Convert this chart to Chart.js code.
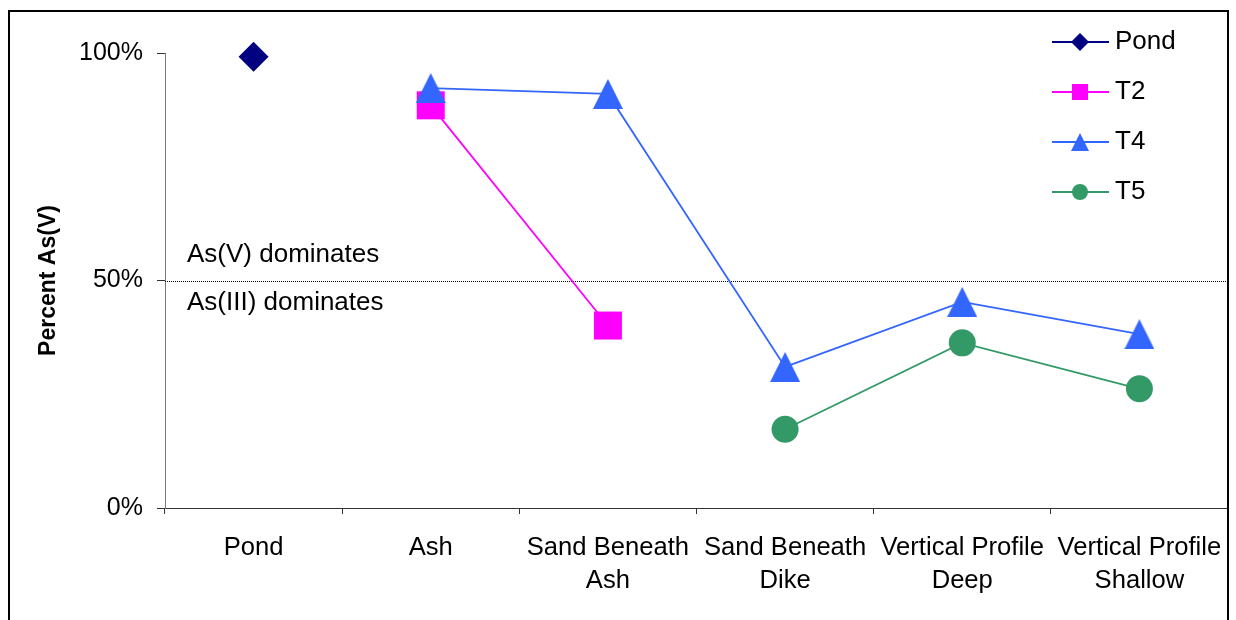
<!DOCTYPE html>
<html>
<head>
<meta charset="utf-8">
<script src="https://cdn.jsdelivr.net/npm/chart.js@4.4.0/dist/chart.umd.min.js"></script>
<style>
  html, body { margin: 0; padding: 0; background: #fff; }
  canvas { display: block; }
</style>
</head>
<body>
<canvas id="graficoArsenio" width="1236" height="620"></canvas>
<script>
// Dados (percentual de As(V))
const categorias = [['Pond'], ['Ash'], ['Sand Beneath', 'Ash'], ['Sand Beneath', 'Dike'], ['Vertical Profile', 'Deep'], ['Vertical Profile', 'Shallow']];
const serieNomes = ['Pond', 'T2', 'T4', 'T5'];
const pond = [99.2, null, null, null, null, null];
const t2 = [null, 88.5, 40.1, null, null, null];
const t4 = [null, 92.3, 91.0, 31.0, 45.3, 38.2];
const t5 = [null, null, null, 17.3, 36.3, 26.2];
const yTicks = [0, 50, 100];
const linhaDivisoria = 50;

const fonte = 'Liberation Sans, Arial, sans-serif';

// Triângulo no estilo do Excel (centrado na caixa)
const triangulo = (w, h, cor) => {
    const c = document.createElement('canvas');
    c.width = w; c.height = h;
    const g = c.getContext('2d');
    g.fillStyle = cor;
    g.beginPath();
    g.moveTo(w / 2, 0); g.lineTo(w, h); g.lineTo(0, h);
    g.closePath(); g.fill();
    return c;
};

const cores = { pond: '#000080', t2: '#FF00FF', t4: '#3366FF', t5: '#339966' };

// Moldura externa
const molduraPlugin = {
    id: 'moldura',
    afterDraw(chart) {
        const ctx = chart.ctx;
        ctx.save();
        ctx.strokeStyle = '#000';
        ctx.lineWidth = 2;
        ctx.strokeRect(9, 11, 1219, 700);
        ctx.restore();
    }
};

// Linha pontilhada de 50% e textos
const divisoriaPlugin = {
    id: 'divisoria',
    beforeDatasetsDraw(chart) {
        const ctx = chart.ctx;
        const y = Math.round(chart.scales.y.getPixelForValue(linhaDivisoria)) + 0.5;
        const a = chart.chartArea;
        ctx.save();
        ctx.strokeStyle = '#000';
        ctx.lineWidth = 1;
        ctx.setLineDash([1, 1]);
        ctx.beginPath();
        ctx.moveTo(a.left, y);
        ctx.lineTo(a.right, y);
        ctx.stroke();
        ctx.setLineDash([]);
        ctx.fillStyle = '#000';
        ctx.font = '26px ' + fonte;
        ctx.textAlign = 'left';
        ctx.textBaseline = 'middle';
        ctx.fillText('As(V) dominates', a.left + 22, y - 27);
        ctx.fillText('As(III) dominates', a.left + 22, y + 21);
        ctx.restore();
    }
};

// Legenda com linha + marcador
const legendaPlugin = {
    id: 'legenda',
    afterDraw(chart) {
        const ctx = chart.ctx;
        chart.data.datasets.forEach((ds, i) => {
            const y = 42 + i * 50;
            const cx = 1080;
            ctx.save();
            ctx.strokeStyle = ds.borderColor;
            ctx.lineWidth = 1.8;
            ctx.beginPath();
            ctx.moveTo(1052, y);
            ctx.lineTo(1109, y);
            ctx.stroke();
            ctx.fillStyle = ds.borderColor;
            ctx.beginPath();
            if (ds.label === 'Pond') {
                ctx.moveTo(cx - 9, y); ctx.lineTo(cx, y - 9); ctx.lineTo(cx + 9, y); ctx.lineTo(cx, y + 9);
                ctx.closePath(); ctx.fill();
            } else if (ds.label === 'T2') {
                ctx.fillRect(cx - 8, y - 8, 16, 16);
            } else if (ds.label === 'T4') {
                ctx.moveTo(cx, y - 9); ctx.lineTo(cx + 9, y + 9); ctx.lineTo(cx - 9, y + 9);
                ctx.closePath(); ctx.fill();
            } else {
                ctx.arc(cx, y, 8, 0, Math.PI * 2); ctx.fill();
            }
            ctx.fillStyle = '#000';
            ctx.font = '26px ' + fonte;
            ctx.textAlign = 'left';
            ctx.textBaseline = 'middle';
            ctx.fillText(ds.label, 1115, y);
            ctx.restore();
        });
    }
};

const ctxGrafico = document.getElementById('graficoArsenio').getContext('2d');
new Chart(ctxGrafico, {
    type: 'line',
    data: {
        labels: categorias,
        datasets: [
            { label: serieNomes[0], data: pond, order: 3, clip: false, borderColor: cores.pond, backgroundColor: cores.pond, borderWidth: 1.8, pointStyle: 'rectRot', pointRadius: 15, pointBorderWidth: 0 },
            { label: serieNomes[1], data: t2, order: 2, clip: false, borderColor: cores.t2, backgroundColor: cores.t2, borderWidth: 1.8, pointStyle: 'rect', pointRadius: 19.8, pointBorderWidth: 0 },
            { label: serieNomes[2], data: t4, order: 1, clip: false, borderColor: cores.t4, backgroundColor: cores.t4, borderWidth: 1.8, pointStyle: triangulo(30, 30, cores.t4), pointBorderWidth: 0 },
            { label: serieNomes[3], data: t5, order: 0, clip: false, borderColor: cores.t5, backgroundColor: cores.t5, borderWidth: 1.8, pointStyle: 'circle', pointRadius: 13.5, pointBorderWidth: 0 }
        ]
    },
    options: {
        responsive: false,
        animation: false,
        events: [],
        spanGaps: false,
        layout: { autoPadding: false, padding: { top: 53, right: 8, left: 0, bottom: 0 } },
        plugins: { legend: { display: false }, tooltip: { enabled: false } },
        scales: {
            x: {
                offset: true,
                grid: { offset: true, drawOnChartArea: false, tickLength: 6, color: '#333' },
                border: { color: '#333', width: 1 },
                ticks: { color: '#000', font: { family: fonte, size: 25.6, lineHeight: 1.3 }, padding: 17, maxRotation: 0, autoSkip: false },
                afterFit(s) { s.height = 112; s.paddingLeft = 0; s.paddingRight = 0; }
            },
            y: {
                min: 0,
                max: 100,
                afterBuildTicks(s) { s.ticks = yTicks.map(v => ({ value: v })); },
                grid: { drawOnChartArea: false, tickLength: 8, color: '#333' },
                border: { color: '#777', width: 1 },
                ticks: { color: '#000', font: { family: fonte, size: 25 }, padding: 14, callback: v => v + '%' },
                title: { display: true, text: 'Percent As(V)', color: '#000', font: { family: fonte, size: 23, weight: 'bold' }, padding: { top: 35, bottom: 0 } },
                afterFit(s) { s.width = 165; }
            }
        }
    },
    plugins: [divisoriaPlugin, legendaPlugin, molduraPlugin]
});
</script>
</body>
</html>
